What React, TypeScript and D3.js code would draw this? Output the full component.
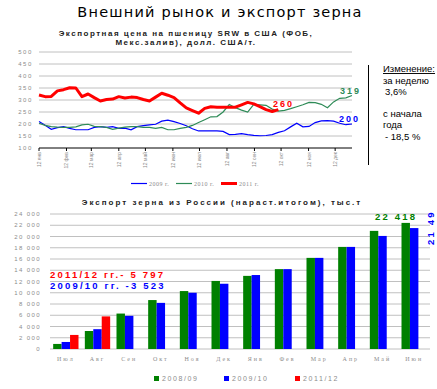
import React from "react";
import * as d3 from "d3";

// ---------- Line chart data (weekly, $/t) ----------
const price2009 = [210, 195, 178, 185, 189, 182, 176, 176, 176, 186, 189, 186, 189, 182, 183, 176, 189, 193, 196, 199, 212, 216, 210, 202, 193, 180, 171, 171, 171, 171, 169, 156, 157, 160, 156, 153, 151, 152, 156, 165, 172, 188, 203, 188, 190, 206, 213, 214, 212, 203, 197, 200];
const price2010 = [203, 194, 189, 187, 186, 186, 188, 196, 199, 190, 189, 186, 178, 183, 187, 189, 189, 186, 186, 182, 186, 176, 176, 182, 186, 194, 206, 218, 230, 231, 250, 281, 268, 258, 250, 282, 280, 278, 262, 254, 257, 264, 272, 280, 290, 289, 282, 268, 292, 307, 309, 319];
const price2011 = [321, 314, 315, 338, 343, 351, 350, 314, 325, 310, 296, 302, 304, 314, 308, 312, 310, 302, 296, 312, 328, 320, 310, 288, 267, 256, 245, 265, 272, 270, 270, 270, 270, 280, 290, 284, 272, 260, 252, 260];
const priceTicks = [100, 150, 200, 250, 300, 350, 400, 450, 500];
const monthLabels = ["12 янв", "12 фев", "12 мар", "12 апр", "12 май", "12 июн", "12 июл", "12 авг", "12 сен", "12 окт", "12 ноя", "12 дек"];
const lineLegend = ["2009 г.", "2010 г.", "2011 г."];

// ---------- Bar chart data (cumulative, thousand t) ----------
const months = ["Июл", "Авг", "Сен", "Окт", "Ноя", "Дек", "Янв", "Фев", "Мар", "Апр", "Май", "Июн"];
const exp0809 = [900, 3200, 6300, 8700, 10300, 12100, 13000, 14200, 16200, 18150, 21000, 22418];
const exp0910 = [1250, 3523, 5900, 8200, 10000, 11600, 13150, 14200, 16200, 18150, 20100, 21497];
const exp1112 = [2500, 5797];
const barSeries = ["2008/09", "2009/10", "2011/12"];
const barTicks = [0, 2000, 4000, 6000, 8000, 10000, 12000, 14000, 16000, 18000, 20000, 22000, 24000];

const C_BLUE = "#0000ff";
const C_GREEN_LINE = "#2e8b57";
const C_RED = "#ff0000";
const C_GREEN = "#008000";
const GRID = "#c0c0c0";
const GRAY = "#8c8c8c";

const loc = d3.formatLocale({ decimal: ",", thousands: " ", grouping: [3], currency: ["", ""] });
const fmt = loc.format(",");

export default function App() {
  // line chart scales
  const xw = d3.scaleLinear().domain([0, 51]).range([39, 352]);
  const xt = d3.scaleTime().domain([new Date(2011, 0, 12), new Date(2011, 11, 31)]).range([39, 352]);
  const yp = d3.scaleLinear().domain([100, 500]).range([148, 52]);
  const line = d3.line<number>().x((_, i) => xw(i)).y((d) => yp(d));

  // bar chart scales
  const xb = d3.scaleBand<string>().domain(months).range([50, 430]).paddingInner(0.2).paddingOuter(0.1);
  const xs = d3.scaleBand<string>().domain(barSeries).range([0, xb.bandwidth()]);
  const yb = d3.scaleLinear().domain([0, 24000]).range([349, 214]);
  const seriesVals = [exp0809, exp0910, exp1112];
  const seriesCol = [C_GREEN, C_BLUE, C_RED];

  const smallFont = "'Liberation Sans', Arial, sans-serif";

  return (
    <svg width={437} height={389} style={{ position: "absolute", left: 0, top: 0, background: "#fff" }}>
      <defs>
        <clipPath id="barclip">
          <rect x={0} y={211} width={437} height={178} />
        </clipPath>
      </defs>
      {/* Main title */}
      <text x={220} y={17} textAnchor="middle" fontFamily="'DejaVu Sans', sans-serif" fontSize={14.5} letterSpacing={1.2} fill="#000">
        Внешний рынок и экспорт зерна
      </text>
      {/* Line chart subtitle */}
      <g fontFamily={smallFont} fontWeight="bold" fontSize={8} letterSpacing={1.5} fill="#222" textAnchor="middle">
        <text x={186} y={36}>Экспортная цена на пшеницу SRW  в США (ФОБ,</text>
        <text x={186} y={45}>Мекс.залив), долл. США/т.</text>
      </g>
      {/* grid */}
      {priceTicks.map((t) => (
        <g key={t}>
          {t > 100 && <line x1={39} x2={352} y1={yp(t)} y2={yp(t)} stroke={GRID} strokeWidth={1} />}
          <text x={33} y={yp(t) + 2} textAnchor="end" fontFamily={smallFont} fontSize={6} letterSpacing={1.6} fill={GRAY}>
            {t}
          </text>
        </g>
      ))}
      <line x1={39} x2={352} y1={yp(100)} y2={yp(100)} stroke="#000" strokeWidth={1} />
      {monthLabels.map((m, i) => {
        const x = xt(new Date(2011, i, 12));
        return (
          <g key={m}>
            <line x1={x} x2={x} y1={yp(100)} y2={yp(100) + 3} stroke="#000" />
            <text transform={`translate(${x + 2},152) rotate(-90)`} textAnchor="end" fontFamily={smallFont} fontSize={5} fill={GRAY}>
              {m}
            </text>
          </g>
        );
      })}
      <path d={line(price2009) || ""} fill="none" stroke={C_BLUE} strokeWidth={1.2} />
      <path d={line(price2010) || ""} fill="none" stroke={C_GREEN_LINE} strokeWidth={1.2} />
      <path d={line(price2011) || ""} fill="none" stroke={C_RED} strokeWidth={3} strokeLinejoin="round" />
      <g fontFamily={smallFont} fontWeight="bold" fontSize={9} letterSpacing={2}>
        <text x={273} y={107} fill={C_RED}>{price2011[price2011.length - 1]}</text>
        <text x={340} y={94} fill={C_GREEN_LINE}>{price2010[price2010.length - 1]}</text>
        <text x={339} y={122} fill={C_BLUE}>{price2009[price2009.length - 1]}</text>
      </g>
      {/* line legend */}
      {lineLegend.map((l, i) => {
        const x0 = 131 + i * 45;
        const col = [C_BLUE, C_GREEN_LINE, C_RED][i];
        return (
          <g key={l}>
            <line x1={x0} x2={x0 + 16} y1={183.5} y2={183.5} stroke={col} strokeWidth={i === 2 ? 3 : 1.2} />
            <text x={x0 + 18} y={185.5} fontFamily="'Liberation Serif', serif" fontSize={6} letterSpacing={0.5} fill={GRAY}>
              {l}
            </text>
          </g>
        );
      })}
      {/* right panel */}
      <line x1={368.5} x2={368.5} y1={65} y2={165} stroke="#000" strokeWidth={1} />
      <g fontFamily={smallFont} fontSize={9.5} fill="#000">
        <text x={383} y={72} textDecoration="underline">Изменение:</text>
        <text x={383} y={84}>за неделю</text>
        <text x={385} y={95}>3,6%</text>
        <text x={383} y={117}>с начала</text>
        <text x={383} y={128}>года</text>
        <text x={385} y={140}>- 18,5 %</text>
      </g>

      {/* Bar chart */}
      <text x={222} y={205} textAnchor="middle" fontFamily={smallFont} fontWeight="bold" fontSize={8} letterSpacing={2} fill="#222">
        Экспорт зерна из России (нараст.итогом), тыс.т
      </text>
      {barTicks.map((t) => (
        <g key={t}>
          <line x1={50} x2={430} y1={yb(t)} y2={yb(t)} stroke={GRID} strokeWidth={1} />
          <text x={41} y={yb(t) + 2} textAnchor="end" fontFamily={smallFont} fontSize={6} letterSpacing={1.4} fill={GRAY}>
            {fmt(t)}
          </text>
        </g>
      ))}
      {months.map((m, i) => (
        <g key={m}>
          {seriesVals.map((vals, s) =>
            i < vals.length ? (
              <rect
                key={s}
                x={(xb(m) as number) + (xs(barSeries[s]) as number)}
                y={yb(vals[i])}
                width={xs.bandwidth()}
                height={yb(0) - yb(vals[i])}
                fill={seriesCol[s]}
              />
            ) : null
          )}
          <text x={(xb(m) as number) + xb.bandwidth() / 2} y={361} textAnchor="middle" fontFamily="'Liberation Serif', serif" fontSize={6} letterSpacing={2} fill={GRAY}>
            {m}
          </text>
        </g>
      ))}
      <g fontFamily={smallFont} fontWeight="bold" fontSize={9.5} letterSpacing={2.2}>
        <text x={50} y={278} fill={C_RED}>2011/12 гг.- {fmt(exp1112[1])}</text>
        <text x={50} y={289} fill={C_BLUE}>2009/10 гг. -{fmt(exp0910[1])}</text>
        <text x={375} y={220} fill={C_GREEN}>{fmt(exp0809[11])}</text>
        <g clipPath="url(#barclip)">
          <text transform={`translate(434,245) rotate(-90)`} fill={C_BLUE}>{fmt(exp0910[11])}</text>
        </g>
      </g>
      {/* bar legend */}
      {barSeries.map((s, i) => {
        const x0 = [154, 224, 295][i];
        return (
          <g key={s}>
            <rect x={x0} y={376} width={5} height={5} fill={seriesCol[i]} />
            <text x={x0 + 8} y={381} fontFamily={smallFont} fontSize={7} letterSpacing={1.6} fill={GRAY}>
              {s}
            </text>
          </g>
        );
      })}
    </svg>
  );
}
